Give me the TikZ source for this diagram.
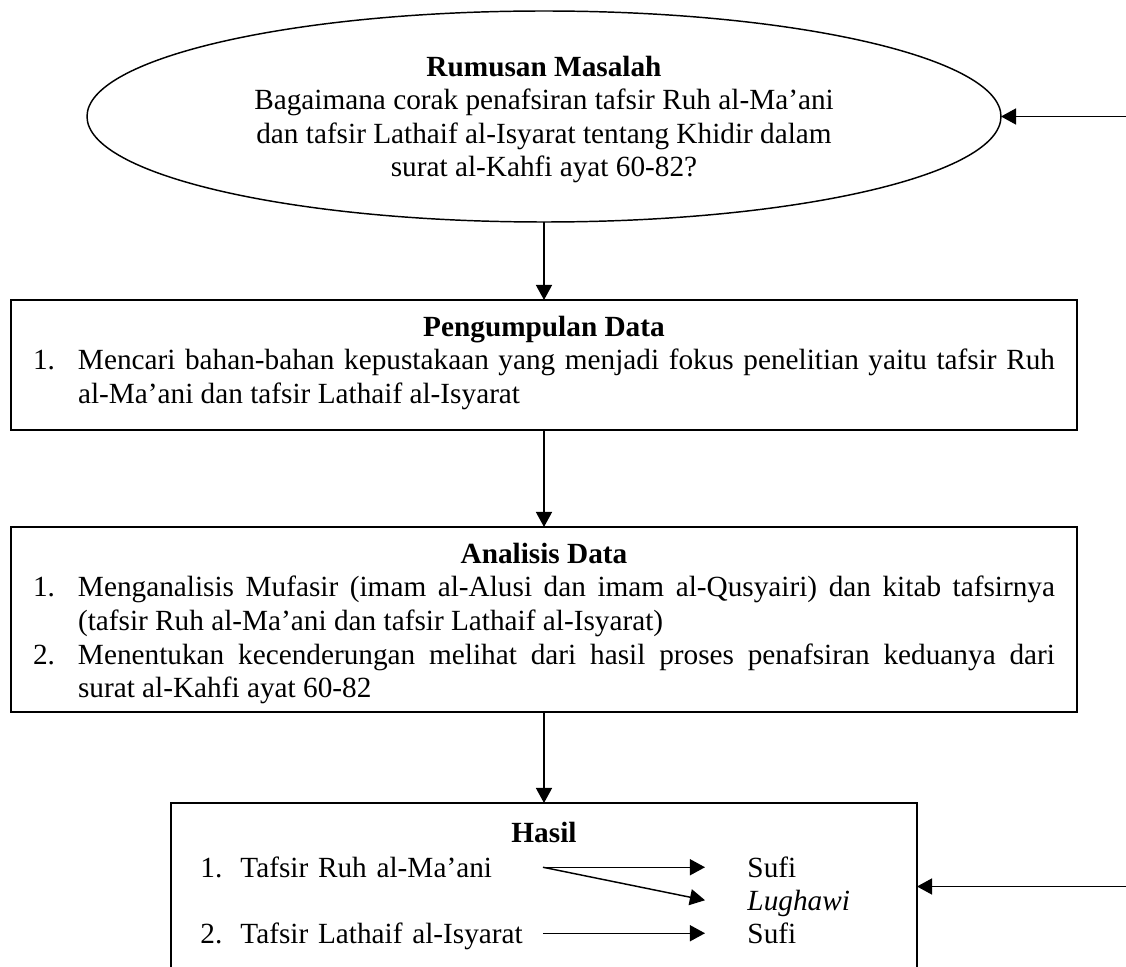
\documentclass[tikz,border=0pt]{standalone}
\usepackage{fontspec}
\setmainfont{Liberation Serif}
\usetikzlibrary{arrows.meta,positioning,shapes.geometric}
\newcommand{\numitem}[2]{\par\hangindent=18.45pt\hangafter=1\noindent\makebox[18.45pt][l]{#1}#2\par}

\begin{document}
\begin{tikzpicture}[x=0.41pt,y=-0.41pt,
    kfont/.style={font=\fontsize{12pt}{13.8pt}\selectfont},
    kellipse/.style={ellipse,draw,line width=0.6pt,kfont,align=center,
        inner sep=0pt,outer sep=0pt,minimum width=374.74pt,minimum height=86.51pt},
    kbox/.style={rectangle,draw,line width=0.6pt,kfont,text width=419.02pt,
        align=justify,inner xsep=9.02pt,inner ysep=0pt,outer sep=0pt,text height=14.8pt},
    khasil/.style={rectangle,draw,line width=0.6pt,kfont,minimum width=305.86pt,
        inner sep=0pt,outer sep=0pt,text height=16.4pt,text depth=52.07pt},
    karrow/.style={-{Triangle[length=6.2pt,width=6.6pt]},line width=0.6pt},
    kitem/.style={kfont,anchor=base west,inner sep=0pt,text height=8pt,text depth=0pt},
    kresult/.style={kitem,inner xsep=17.22pt}
]
\useasboundingbox (0,0) rectangle (1126,967);
\node[kellipse,text height=52.2pt,text depth=2.6pt] (rumusan) at (544,116.5)
    {\textbf{Rumusan Masalah}\\Bagaimana corak penafsiran tafsir Ruh al-Ma’ani\\
    dan tafsir Lathaif al-Isyarat tentang Khidir dalam\\surat al-Kahfi ayat 60-82?};
\node[kbox,text depth=38.5pt,below=31.98pt of rumusan] (pengumpulan)
    {{\centering\textbf{Pengumpulan Data}\par}
    \numitem{1.}{Mencari bahan-bahan kepustakaan yang menjadi fokus penelitian yaitu tafsir Ruh\linebreak
    al-Ma’ani dan tafsir Lathaif al-Isyarat}};
\node[kbox,text depth=61.05pt,below=39.77pt of pengumpulan] (analisis)
    {{\centering\textbf{Analisis Data}\par}
    \numitem{1.}{Menganalisis Mufasir (imam al-Alusi dan imam al-Qusyairi) dan kitab tafsirnya\linebreak
    (tafsir Ruh al-Ma’ani dan tafsir Lathaif al-Isyarat)}
    \numitem{2.}{Menentukan kecenderungan melihat dari hasil proses penafsiran keduanya dari\linebreak
    surat al-Kahfi ayat 60-82}};
\node[khasil,below=37.31pt of analisis] (hasil) {\textbf{Hasil}};
\node[kitem] (num1) at (200,877) {1.};
\node[kitem,text width=123.82pt] (item1) at (240,877) {Tafsir Ruh al-Ma’ani};
\node[kitem] (num2) at (200,943) {2.};
\node[kitem,text width=123.82pt] (item2) at (240,943) {Tafsir Lathaif al-Isyarat};
\node[kresult] (sufiA) at (705,877) {Sufi};
\node[kresult] (lughawi) at (705,910) {\textit{Lughawi}};
\node[kresult] (sufiB) at (705,943) {Sufi};
\coordinate (rightedge) at (1126,0);
\coordinate (backtop) at (rightedge |- rumusan.east);
\coordinate (backbottom) at (rightedge |- hasil.east);
\draw[karrow] (rumusan.south)--(pengumpulan.north);
\draw[karrow] (pengumpulan.south)--(analisis.north);
\draw[karrow] (analisis.south)--(hasil.north);
\draw[karrow] (item1.east)--(sufiA.west);
\draw[karrow] (item1.east)--(lughawi.west);
\draw[karrow] (item2.east)--(sufiB.west);
\draw[karrow] (backtop)--(rumusan.east);
\draw[karrow] (backbottom)--(hasil.east);
\end{tikzpicture}
\end{document}
